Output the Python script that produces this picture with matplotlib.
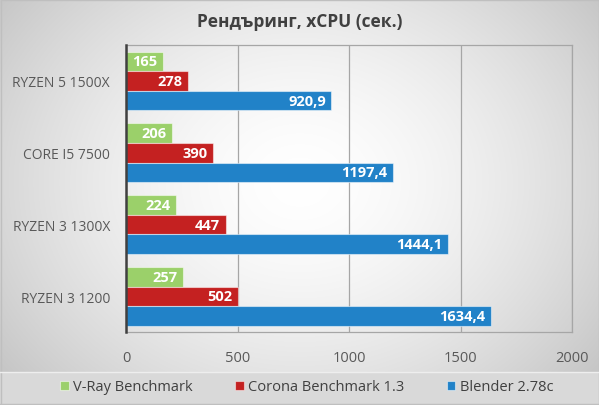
import numpy as np
import matplotlib
matplotlib.use("Agg")
import matplotlib.pyplot as plt

categories = ["RYZEN 5 1500X", "CORE I5 7500", "RYZEN 3 1300X", "RYZEN 3 1200"]
series_names = ["V-Ray Benchmark", "Corona Benchmark 1.3", "Blender 2.78c"]
vray = [165, 206, 224, 257]
corona = [278, 390, 447, 502]
blender = [920.9, 1197.4, 1444.1, 1634.4]
labels_vray = ["165", "206", "224", "257"]
labels_corona = ["278", "390", "447", "502"]
labels_blender = ["920,9", "1197,4", "1444,1", "1634,4"]
xticks = [0, 500, 1000, 1500, 2000]

colors = ["#9BD06A", "#C42121", "#2182C8"]
plt.rcParams['font.family'] = ['Open Sans', 'DejaVu Sans']

W, H = 599, 406
fig = plt.figure(figsize=(W/100, H/100), dpi=100)

# background radial gradient
bg = fig.add_axes([0, 0, 1, 1], zorder=-10)
yy, xx = np.mgrid[0:H, 0:W]
r = np.sqrt(((xx - W/2)/(W*0.62))**2 + ((yy - H*0.45)/(H*0.75))**2)
val = 1.0 - 0.22*np.clip(r, 0, 1)**1.6
img = np.dstack([val, val, val])
bg.imshow(img, extent=[0, W, H, 0], aspect='auto', interpolation='bilinear')
# legend band
bg.add_patch(plt.Rectangle((0, 373), W, 33, facecolor="#D9D9D9", edgecolor="none"))
bg.plot([0, W], [373, 373], color="#EEEEEE", lw=1)
bg.plot([0, W], [404.5, 404.5], color="#BFBFBF", lw=1)
bg.add_patch(plt.Rectangle((0.5, 0.5), W-1, H-1, facecolor="none", edgecolor="#BFBFBF", lw=1))
bg.set_xlim(0, W); bg.set_ylim(H, 0)
bg.axis('off')

ax = fig.add_axes([126/W, 1-333.3/H, (572.3-126)/W, (333.3-46)/H])
ax.patch.set_alpha(0)

n = len(categories)
pos = np.arange(n)
h = 0.273
data = [vray, corona, blender]
labs = [labels_vray, labels_corona, labels_blender]
for i, (vals, lb, c) in enumerate(zip(data, labs, colors)):
    y = pos + (i - 1) * h
    ax.barh(y, vals, height=h, color=c, edgecolor=(1, 1, 1, 0.5), linewidth=0.8, zorder=3,
            label=series_names[i])
    for yi, v, t in zip(y, vals, lb):
        ax.annotate(t, (v, yi), xytext=(-4, 0), textcoords='offset points',
                    ha='right', va='center', color='white', fontsize=10.5,
                    fontweight='bold', zorder=4)

ax.set_ylim(n - 0.5, -0.5)
ax.set_xlim(0, 2000)
ax.set_xticks(xticks)
ax.set_xticklabels([str(t) for t in xticks])
ax.set_yticks(pos)
ax.set_yticklabels(categories)
ax.tick_params(axis='both', length=0, labelsize=10, colors="#595959")
ax.tick_params(axis='x', pad=13, labelsize=10.5)
ax.tick_params(axis='y', pad=11.5)
ax.grid(axis='x', color="#A6A6A6", lw=0.9, zorder=0)
for s in ['top', 'right', 'bottom']:
    ax.spines[s].set_color("#A6A6A6")
    ax.spines[s].set_linewidth(0.9)
ax.spines['left'].set_color("#404040")
ax.spines['left'].set_linewidth(1.8)
ax.spines['left'].set_zorder(5)

fig.text(0.5, 1-22/H, "Рендъринг, xCPU (сек.)", ha='center', va='center', fontsize=12.5,
         fontweight='bold', color="#404040")

fig.legend(loc='center', bbox_to_anchor=(0.512, 1-388/H), ncol=3, frameon=False,
           fontsize=10.5, handlelength=0.6, handleheight=0.6, columnspacing=2.9,
           handletextpad=0.3, labelcolor="#404040")

fig.savefig("out.png", dpi=100)
